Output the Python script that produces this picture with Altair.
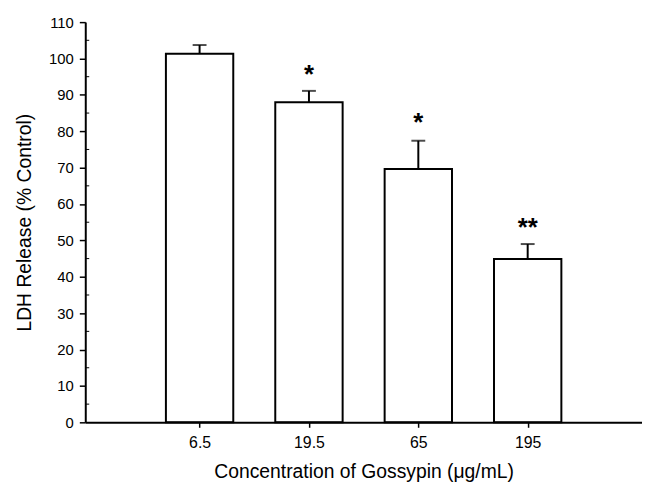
import altair as alt
import pandas as pd

# --- data ---
concentrations = ["6.5", "19.5", "65", "195"]
ldh_release = [101.3, 88.0, 69.6, 44.9]
sem = [2.4, 3.1, 7.8, 4.1]
stars = ["", "*", "*", "**"]
star_y = [None, 97.0, 84.0, 55.0]
major_ticks = list(range(0, 111, 10))
minor_ticks = list(range(5, 110, 10))

FONT = "Liberation Sans"

df = pd.DataFrame({
    "pos": list(range(1, len(concentrations) + 1)),
    "conc": concentrations,
    "ldh": ldh_release,
    "top": [v + e for v, e in zip(ldh_release, sem)],
})
df_star = pd.DataFrame({
    "pos": [i + 1 for i, s in enumerate(stars) if s],
    "label": [s for s in stars if s],
    "y": [y for y, s in zip(star_y, stars) if s],
})
df_minor = pd.DataFrame({"v": minor_ticks})

label_expr = "[" + ",".join(["''"] + [f"'{c}'" for c in concentrations]) + "][datum.value]"

x_scale = alt.Scale(domain=[0, len(concentrations) + 1], nice=False, zero=False)
y_scale = alt.Scale(domain=[0, 110], nice=False)

x_axis = alt.Axis(
    title="Concentration of Gossypin (\u03bcg/mL)",
    values=list(range(1, len(concentrations) + 1)),
    labelExpr=label_expr,
    grid=False, tickSize=5, tickWidth=1.5, tickColor="black",
    domainColor="black", domainWidth=2,
    labelFont=FONT, labelFontSize=16, labelColor="black", labelPadding=7,
    labelOverlap=False,
    titleFont=FONT, titleFontSize=19.5, titleFontWeight="normal", titleColor="black",
    titlePadding=13, zindex=1,
)
y_axis = alt.Axis(
    title="LDH Release (% Control)",
    values=major_ticks,
    grid=False, tickSize=6, tickWidth=1.5, tickColor="black",
    domainColor="black", domainWidth=2,
    labelFont=FONT, labelFontSize=15, labelColor="black", labelPadding=6,
    labelOverlap=False,
    titleFont=FONT, titleFontSize=19.5, titleFontWeight="normal", titleColor="black",
    titlePadding=14, zindex=1,
)


def X(field):
    return alt.X(field, scale=x_scale, axis=x_axis)


def Y(field):
    return alt.Y(field, scale=y_scale, axis=y_axis)


base = alt.Chart(df)

bars = base.mark_bar(fill="white", stroke="black", strokeWidth=2, size=68).encode(
    x=X("pos:Q"), y=Y("ldh:Q"),
)

err = base.mark_rule(color="black", strokeWidth=2).encode(
    x=X("pos:Q"), y=Y("ldh:Q"), y2="top:Q"
)
cap = base.mark_tick(color="black", orient="horizontal", size=14, thickness=2).encode(
    x=X("pos:Q"), y=Y("top:Q")
)

star_text = alt.Chart(df_star).mark_text(
    font=FONT, fontSize=26, fontWeight="bold", color="black", baseline="middle", dy=6
).encode(x=X("pos:Q"), y=Y("y:Q"), text="label:N")

minor = alt.Chart(df_minor).mark_rule(color="black", strokeWidth=1).encode(
    x=alt.value(0), x2=alt.value(4), y=Y("v:Q")
)

chart = alt.layer(bars, err, cap, star_text, minor).properties(
    width=562,
    height=404,
    autosize=alt.AutoSizeParams(type="none"),
    padding={"left": 78, "top": 12, "right": 0, "bottom": 60},
    background="white",
).configure_view(stroke=None)

chart.save("out.html", embed_options={"renderer": "svg", "actions": False})
